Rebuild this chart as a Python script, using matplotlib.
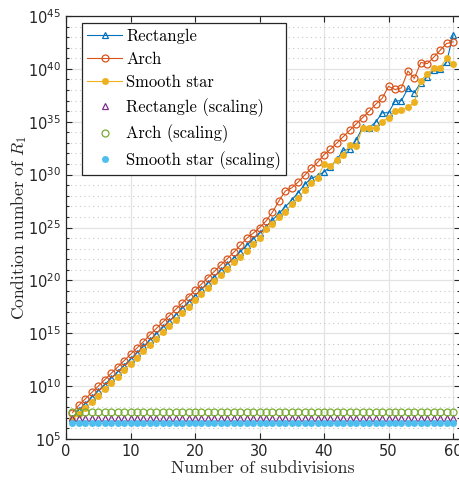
import numpy as np
import matplotlib
matplotlib.use("Agg")
import matplotlib.pyplot as plt
from matplotlib.ticker import FixedLocator, FuncFormatter, NullFormatter

# ---- data (log10 of condition number) ----
subdivisions = list(range(1, 61))

rect_log = [7.0, 7.75, 8.35, 8.95, 9.55, 10.15, 10.75, 11.35, 11.95, 12.55,
            13.15, 13.75, 14.35, 14.95, 15.55, 16.15, 16.75, 17.35, 17.95, 18.55,
            19.15, 19.75, 20.35, 20.95, 21.55, 22.1, 22.7, 23.3, 23.9, 24.47,
            25.07, 25.7, 26.33, 26.96, 27.6, 28.3, 29.07, 29.64, 29.89, 30.27,
            30.75, 31.45, 32.3, 32.4, 33.3, 34.5, 34.45, 34.95, 35.85, 35.85,
            36.95, 37.0, 38.15, 37.75, 38.7, 39.25, 39.9, 40.0, 40.63, 43.2]

arch_log = [7.5, 8.2, 8.8, 9.4, 10.0, 10.6, 11.2, 11.8, 12.4, 13.0,
            13.6, 14.2, 14.85, 15.45, 16.05, 16.65, 17.25, 17.85, 18.45, 19.05,
            19.65, 20.25, 20.85, 21.45, 22.05, 22.65, 23.3, 23.97, 24.45, 24.97,
            25.6, 26.45, 27.5, 28.45, 28.75, 29.3, 29.95, 30.6, 31.15, 31.9,
            32.4, 33.0, 33.6, 34.2, 34.8, 35.4, 36.0, 36.65, 37.2, 38.35,
            38.05, 38.2, 39.8, 39.1, 40.6, 40.5, 41.1, 41.75, 42.4, 42.55]

star_log = [6.9, 7.35, 7.9, 8.5, 9.1, 9.7, 10.3, 10.9, 11.5, 12.1,
            12.7, 13.3, 13.9, 14.5, 15.1, 15.7, 16.3, 16.9, 17.5, 18.1,
            18.7, 19.3, 19.9, 20.5, 21.1, 21.7, 22.25, 22.8, 23.4, 23.97,
            24.85, 25.3, 25.95, 26.5, 27.2, 27.8, 28.5, 29.2, 29.7, 31.0,
            30.8, 31.4, 31.9, 32.8, 32.75, 34.45, 34.45, 34.4, 35.0, 35.4,
            36.0, 36.1, 36.35, 36.85, 38.9, 39.5, 40.05, 40.1, 41.0, 40.45]

rect_scaling_log = [7.0] * 60
arch_scaling_log = [7.6] * 60
star_scaling_log = [6.55] * 60

labels = ["Rectangle", "Arch", "Smooth star",
          "Rectangle (scaling)", "Arch (scaling)", "Smooth star (scaling)"]
colors = ["#0072BD", "#D95319", "#EDB120", "#7E2F8E", "#77AC30", "#4DBEEE"]

x = np.array(subdivisions)
to_val = lambda a: 10.0 ** np.array(a)

fig = plt.figure(figsize=(4.6, 4.8), dpi=100)
ax = fig.add_axes([66/460, 1-439/480, (459.5-66)/460, (439-16)/480])

lw = 0.8
ms = 5.0
star = (8, 2, 0)
sms = 4.8
ax.plot(x, to_val(rect_log), '-', color=colors[0], lw=lw, marker='^', ms=ms,
        mfc='none', mew=0.9, label=labels[0], zorder=3)
ax.plot(x, to_val(arch_log), '-', color=colors[1], lw=lw, marker='o', ms=ms,
        mfc='none', mew=0.9, label=labels[1], zorder=3)
ax.plot(x, to_val(star_log), '-', color=colors[2], lw=lw, marker=star, ms=sms,
        mew=1.3, label=labels[2], zorder=3)
ax.plot(x, to_val(rect_scaling_log), linestyle='none', color=colors[3], marker='^', ms=ms,
        mfc='none', mew=0.9, label=labels[3], zorder=3)
ax.plot(x, to_val(arch_scaling_log), linestyle='none', color=colors[4], marker='o', ms=ms,
        mfc='none', mew=0.9, label=labels[4], zorder=3)
ax.plot(x, to_val(star_scaling_log), linestyle='none', color=colors[5], marker=star, ms=sms,
        mew=1.3, label=labels[5], zorder=3)

ax.set_yscale('log')
ax.set_xlim(0, 61)
ax.set_ylim(1e5, 1e45)

major_y = [10.0 ** k for k in range(5, 46, 5)]
minor_y = [10.0 ** k for k in range(5, 46) if k % 5 != 0]
ax.yaxis.set_major_locator(FixedLocator(major_y))
ax.yaxis.set_minor_locator(FixedLocator(minor_y))
ax.yaxis.set_minor_formatter(NullFormatter())
ax.yaxis.set_major_formatter(FuncFormatter(lambda v, p: r'$10^{%d}$' % round(np.log10(v))))
ax.set_xticks([0, 10, 20, 30, 40, 50, 60])

dark = '#262626'
ax.tick_params(which='both', direction='in', top=True, right=True, color=dark,
               labelcolor=dark, labelsize=10.5, width=0.8)
ax.tick_params(which='major', length=4)
ax.tick_params(which='minor', length=2.5)
for s in ax.spines.values():
    s.set_color(dark)
    s.set_linewidth(0.9)

ax.grid(True, which='major', color='#e3e3e3', lw=0.9, zorder=0)
ax.yaxis.grid(True, which='minor', color='#c8c8c8', lw=0.8, linestyle=(0, (1, 3)), zorder=0)
ax.set_axisbelow(True)

serif = 'cmr10'
ax.set_xlabel('Number of subdivisions', fontsize=12.9, family=serif, color=dark, labelpad=1)
ax.set_ylabel(r'Condition number of $R_1$', fontsize=12.5, family=serif, color=dark,
              labelpad=-1, math_fontfamily='cm')

leg = ax.legend(loc='upper left', bbox_to_anchor=(16/393.5, 1-7/423),
                prop={'family': serif, 'size': 11.9},
                frameon=True, fancybox=False, edgecolor=dark, framealpha=1,
                handlelength=2.1, handletextpad=0.25, borderpad=0.32, labelspacing=0.48,
                borderaxespad=0)
leg.get_frame().set_linewidth(0.9)

fig.savefig('out.png', dpi=100)
